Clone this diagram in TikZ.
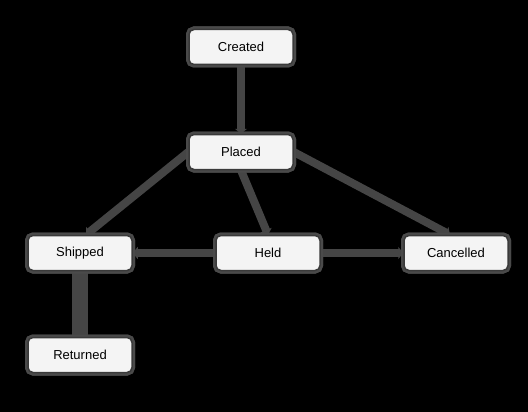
\documentclass[tikz,border=0pt]{standalone}
\usepackage{fontspec}
\setmainfont{Liberation Sans}
\usetikzlibrary{arrows.meta}
\definecolor{boxfill}{HTML}{F4F4F4}
\definecolor{boxline}{HTML}{3A3A3A}
\definecolor{halo}{HTML}{4A4A4A}
\definecolor{edgecol}{HTML}{454545}
\tikzset{
  state/.style={draw=boxline, line width=1.5pt, fill=boxfill, rounded corners=5pt,
    minimum width=104pt, minimum height=35pt, inner sep=0pt,
    font=\fontsize{13}{15}\selectfont, text=black,
    preaction={draw=halo, line width=6pt}},
  flow/.style={draw=edgecol, line width=8pt, -{Triangle[length=5pt,width=12pt]}},
  thickflow/.style={draw=edgecol, line width=16pt}
}
\begin{document}
\begin{tikzpicture}[x=1pt,y=-1pt]
\fill[black] (0,0) rectangle (528,412);
\useasboundingbox (0,0) rectangle (528,412);
\node[state] (created) at (241,47) {Created};
\node[state] (placed) at (241,152) {Placed};
\node[state] (shipped) at (80,253) {Shipped};
\node[state] (held) at (268,253) {Held};
\node[state] (cancelled) at (456,253) {Cancelled};
\node[state] (returned) at (80,355) {Returned};
\path[flow] (created.south) -- (placed.north);
\path[flow] (placed.west) -- ([xshift=6pt]shipped.north);
\path[flow] (placed.south) -- (held.north);
\path[flow] (placed.east) -- ([xshift=-6pt]cancelled.north);
\path[flow] (held.west) -- (shipped.east);
\path[flow] (held.east) -- (cancelled.west);
\path[thickflow] (shipped.south) -- (returned.north);
\node[state] at (created) {Created};
\node[state] at (placed) {Placed};
\node[state] at (shipped) {Shipped};
\node[state] at (held) {Held};
\node[state] at (cancelled) {Cancelled};
\node[state] at (returned) {Returned};
\end{tikzpicture}
\end{document}
